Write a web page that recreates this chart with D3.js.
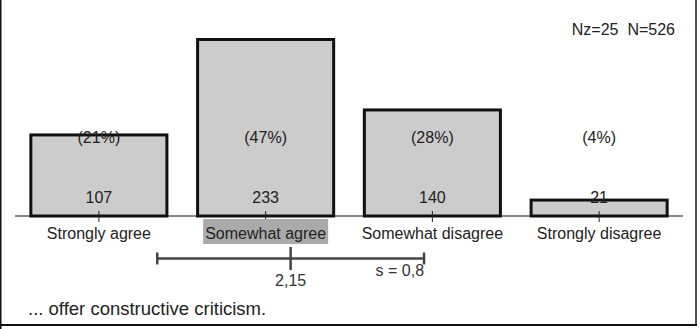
<!DOCTYPE html>
<html><head><meta charset="utf-8">
<script src="https://cdn.jsdelivr.net/npm/d3@7"></script>
<style>body{margin:0;background:#fff}svg{display:block}text{font-family:"Liberation Sans",Arial,sans-serif}</style>
</head><body>
<script>
const categories = ["Strongly agree","Somewhat agree","Somewhat disagree","Strongly disagree"];
const counts = [107,233,140,21];
const percents = ["(21%)","(47%)","(28%)","(4%)"];
const highlighted = ["Somewhat agree"];
const meanValue = 2.15;
const sdValue = 0.8;
const meanLabel = "2,15";
const sdLabel = "s = 0,8";
const nLabel = "Nz=25\u00a0\u00a0N=526";
const question = "... offer constructive criticism.";

const W = 699, H = 329;
const svg = d3.select("body").append("svg").attr("width", W).attr("height", H);

// frame
svg.append("line").attr("x1",0.75).attr("x2",0.75).attr("y1",0).attr("y2",H).attr("stroke","#111").attr("stroke-width",1.5);
svg.append("line").attr("x1",696).attr("x2",696).attr("y1",0).attr("y2",326).attr("stroke","#555").attr("stroke-width",2);
svg.append("line").attr("x1",0).attr("x2",697).attr("y1",325).attr("y2",325).attr("stroke","#111").attr("stroke-width",2);

const x = d3.scaleBand().domain(categories).range([15.5, 682.5]).paddingInner(0.184).paddingOuter(0.092);
const baseY = 216;
const y = d3.scaleLinear().domain([0, 233]).range([baseY, 39.5]);
const xNum = d3.scaleLinear().domain([1, 4]).range([x(categories[0]) + x.bandwidth()/2, x(categories[3]) + x.bandwidth()/2]);

// bars
svg.selectAll("rect.bar").data(counts).join("rect")
  .attr("x",(d,i)=>x(categories[i])).attr("width",x.bandwidth())
  .attr("y",d=>y(d)).attr("height",d=>baseY-y(d))
  .attr("fill","#cccccc").attr("stroke","#111").attr("stroke-width",3);

// axis line
svg.append("line").attr("x1",15).attr("x2",683).attr("y1",baseY).attr("y2",baseY).attr("stroke","#111").attr("stroke-width",1);

// ticks
svg.selectAll("line.tick").data(categories).join("line")
  .attr("x1",d=>x(d)+x.bandwidth()/2).attr("x2",d=>x(d)+x.bandwidth()/2)
  .attr("y1",211).attr("y2",222).attr("stroke","#222").attr("stroke-width",1);

// percent labels
svg.selectAll("text.pct").data(percents).join("text")
  .attr("x",(d,i)=>x(categories[i])+x.bandwidth()/2).attr("y",143)
  .attr("text-anchor","middle").attr("font-size",16).attr("fill","#222").text(d=>d);

// count labels
svg.selectAll("text.cnt").data(counts).join("text")
  .attr("x",(d,i)=>x(categories[i])+x.bandwidth()/2).attr("y",203)
  .attr("text-anchor","middle").attr("font-size",16).attr("fill","#222").text(d=>d);

// highlight
categories.forEach(c=>{
  if (highlighted.includes(c)) {
    svg.append("rect").attr("x",x(c)+x.bandwidth()/2-62.5).attr("y",219).attr("width",125).attr("height",25).attr("fill","#aaaaaa");
  }
});

// category labels
svg.selectAll("text.cat").data(categories).join("text")
  .attr("x",d=>x(d)+x.bandwidth()/2).attr("y",239)
  .attr("text-anchor","middle").attr("font-size",16).attr("fill","#222").text(d=>d);

// mean / sd
const my = 258.5;
const lo = xNum(meanValue - sdValue), hi = xNum(meanValue + sdValue), mx = xNum(meanValue);
svg.append("line").attr("x1",lo).attr("x2",hi).attr("y1",my).attr("y2",my).attr("stroke","#444").attr("stroke-width",2.5);
[lo,hi].forEach(v=>svg.append("line").attr("x1",v).attr("x2",v).attr("y1",252.5).attr("y2",264.5).attr("stroke","#444").attr("stroke-width",2.5));
svg.append("line").attr("x1",mx).attr("x2",mx).attr("y1",247).attr("y2",270).attr("stroke","#444").attr("stroke-width",2.5);
svg.append("text").attr("x",mx).attr("y",286).attr("text-anchor","middle").attr("font-size",16).attr("fill","#333").text(meanLabel);
svg.append("text").attr("x",hi).attr("y",276).attr("text-anchor","end").attr("font-size",16).attr("fill","#333").text(sdLabel);

// N label
svg.append("text").attr("x",675).attr("y",35).attr("text-anchor","end").attr("font-size",16).attr("fill","#222").text(nLabel);

// question
svg.append("text").attr("x",28).attr("y",315).attr("font-size",18.5).attr("fill","#222").text(question);
</script>
</body></html>
